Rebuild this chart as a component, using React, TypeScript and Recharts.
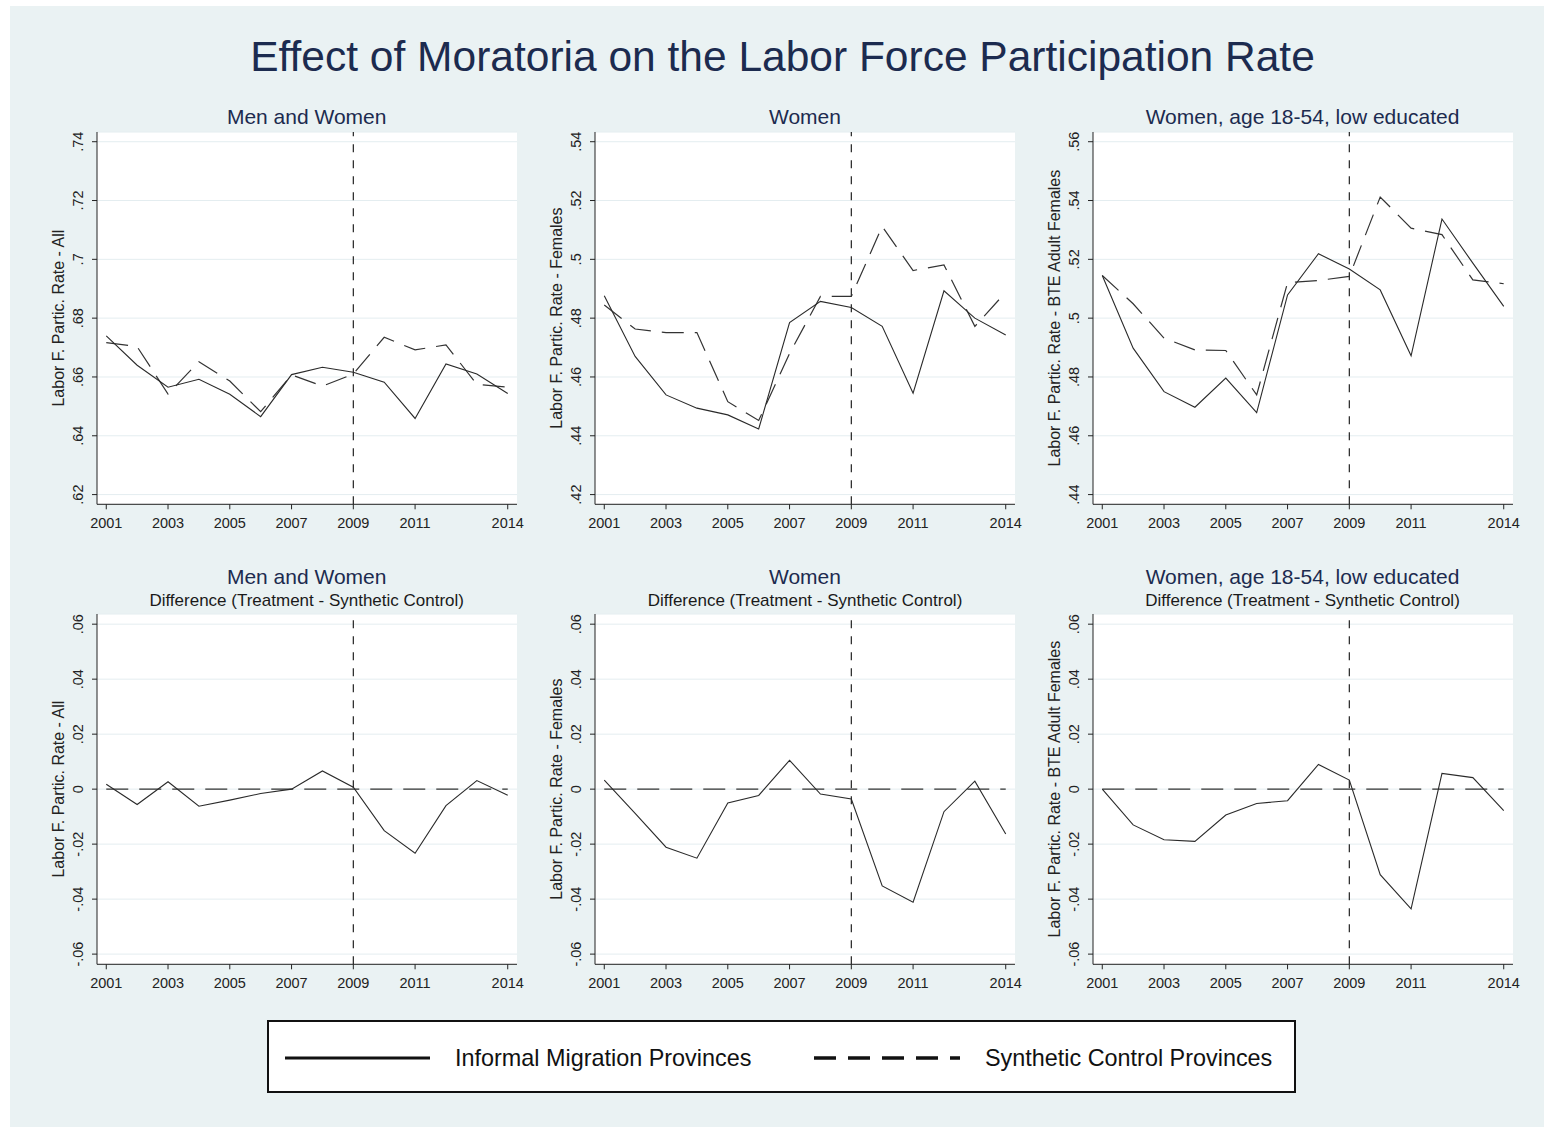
import React from 'react';
import { CartesianGrid, Line, LineChart, ReferenceLine, XAxis, YAxis } from 'recharts';

// years on the x axis
const years = [2001, 2002, 2003, 2004, 2005, 2006, 2007, 2008, 2009, 2010, 2011, 2012, 2013, 2014];
const xTicks = [2001, 2003, 2005, 2007, 2009, 2011, 2014];

// levels - men and women
const treatAll = [0.674, 0.664, 0.6565, 0.6592, 0.6541, 0.6465, 0.6608, 0.6633, 0.6616, 0.6582, 0.6459, 0.6644, 0.661, 0.6544];
const synthAll = [0.6717, 0.6703, 0.6542, 0.6652, 0.6586, 0.6482, 0.6607, 0.6569, 0.661, 0.6735, 0.6692, 0.6709, 0.6575, 0.6565];

// levels - women
const treatFem = [0.4876, 0.467, 0.4539, 0.4494, 0.4471, 0.4423, 0.4785, 0.4857, 0.4836, 0.4772, 0.4545, 0.4893, 0.48, 0.4743];
const synthFem = [0.4845, 0.4763, 0.4751, 0.4751, 0.4516, 0.4452, 0.468, 0.4874, 0.4874, 0.5112, 0.4962, 0.4981, 0.4772, 0.4888];

// levels - women 18-54, low educated
const treatLow = [0.5145, 0.4898, 0.475, 0.4697, 0.4796, 0.4679, 0.5079, 0.5219, 0.5167, 0.5096, 0.4872, 0.5337, 0.5187, 0.504];
const synthLow = [0.5145, 0.5049, 0.4932, 0.4892, 0.489, 0.4739, 0.5121, 0.5128, 0.5142, 0.5412, 0.5306, 0.5284, 0.513, 0.5117];

// differences (treatment - synthetic control)
const diffAll = [0.0018, -0.0056, 0.0027, -0.0062, -0.004, -0.0016, 0.0, 0.0066, 0.0007, -0.0151, -0.0233, -0.006, 0.0031, -0.0022];
const diffFem = [0.0033, -0.0088, -0.0211, -0.0251, -0.005, -0.0023, 0.0105, -0.0018, -0.0036, -0.0352, -0.0411, -0.0082, 0.0029, -0.0163];
const diffLow = [0.0, -0.013, -0.0184, -0.019, -0.0094, -0.0052, -0.0042, 0.009, 0.0033, -0.0311, -0.0435, 0.0057, 0.0042, -0.0078];
const diffBase = [0, 0, 0, 0, 0, 0, 0, 0, 0, 0, 0, 0, 0, 0];

const yTicksAll = [0.62, 0.64, 0.66, 0.68, 0.7, 0.72, 0.74];
const yTicksFem = [0.42, 0.44, 0.46, 0.48, 0.5, 0.52, 0.54];
const yTicksLow = [0.44, 0.46, 0.48, 0.5, 0.52, 0.54, 0.56];
const yTicksDiff = [-0.06, -0.04, -0.02, 0, 0.02, 0.04, 0.06];

const FONT = '"Liberation Sans", Arial, Helvetica, sans-serif';
const NAVY = '#1c2b4f';
const INK = '#222';
const BG = '#eaf2f3';

// page offset of the grey graph region
const OX = 10;
const OY = 6;

const PLOT_W = 420;
const L = 80;
const R = 30;
const T = 2;
const B = 40;

// stata style labels: .74, -.02, 0
const fmtTick = (v: number) => String(Number(v.toFixed(2))).replace(/^(-?)0\./, '$1.');

const YTick = (props: any) => {
    const { x, y, payload } = props;
    return (
        <text x={x} y={y} transform={`rotate(-90, ${x}, ${y})`} textAnchor="middle" fontSize={14.5} fill={INK}>
            {fmtTick(payload.value)}
        </text>
    );
};

interface PanelProps {
    left: number;
    top: number;
    height: number;
    yLabel: string;
    yTicks: number[];
    yDomain: [number, number];
    treat: number[];
    synth: number[];
}

const Panel: React.FC<PanelProps> = ({ left, top, height, yLabel, yTicks, yDomain, treat, synth }) => {
    const data = years.map((year, i) => ({ year, treat: treat[i], synth: synth[i] }));
    return (
        <div style={{ position: 'absolute', left: left - OX - L, top: top - OY - T }}>
            <LineChart
                width={L + PLOT_W + R}
                height={T + height + B}
                data={data}
                margin={{ top: T, right: R, left: 0, bottom: 0 }}
            >
                <CartesianGrid vertical={false} stroke="#e4edf0" fill="#fff" fillOpacity={1} />
                <XAxis
                    dataKey="year"
                    type="number"
                    domain={[2000.7, 2014.3]}
                    ticks={xTicks}
                    interval={0}
                    height={B}
                    tickSize={5}
                    tickMargin={8}
                    stroke={INK}
                    tick={{ fontSize: 14.5, fill: INK }}
                />
                <YAxis
                    type="number"
                    domain={yDomain}
                    ticks={yTicks}
                    interval={0}
                    width={L}
                    tickSize={5}
                    tickMargin={9}
                    stroke={INK}
                    tick={YTick}
                    label={{
                        value: yLabel,
                        angle: -90,
                        position: 'insideLeft',
                        offset: 41.3,
                        style: { textAnchor: 'middle', fontSize: 16, fill: INK }
                    }}
                />
                <ReferenceLine x={2009} stroke={INK} strokeWidth={1.2} strokeDasharray="8 8" />
                <Line
                    type="linear"
                    dataKey="synth"
                    stroke="#333"
                    strokeWidth={1.2}
                    strokeDasharray="22 11"
                    dot={false}
                    isAnimationActive={false}
                />
                <Line
                    type="linear"
                    dataKey="treat"
                    stroke="#2a2a2a"
                    strokeWidth={1.1}
                    dot={false}
                    isAnimationActive={false}
                />
            </LineChart>
        </div>
    );
};

const colLeft = [96.7, 595, 1092.5];
const topRow = { top: 131.7, height: 372.3, title: 124 };
const botRow = { top: 614, height: 350.3, title: 584, sub: 605.5 };
const diffDomain: [number, number] = [-0.0637, 0.0637];

const panelTitles = ['Men and Women', 'Women', 'Women, age 18-54, low educated'];

export default function App() {
    return (
        <div
            style={{
                position: 'absolute',
                left: OX,
                top: OY,
                width: 1534,
                height: 1121,
                background: BG,
                fontFamily: FONT
            }}
        >
            <svg width={1534} height={1121} style={{ position: 'absolute', left: 0, top: 0 }}>
                <text x={772.5} y={65} textAnchor="middle" fontSize={42.5} fill={NAVY}>
                    Effect of Moratoria on the Labor Force Participation Rate
                </text>
                {panelTitles.map((t, i) => (
                    <g key={t}>
                        <text x={colLeft[i] - OX + PLOT_W / 2} y={topRow.title - OY} textAnchor="middle" fontSize={21} fill={NAVY}>
                            {t}
                        </text>
                        <text x={colLeft[i] - OX + PLOT_W / 2} y={botRow.title - OY} textAnchor="middle" fontSize={21} fill={NAVY}>
                            {t}
                        </text>
                        <text x={colLeft[i] - OX + PLOT_W / 2} y={botRow.sub - OY} textAnchor="middle" fontSize={17} fill="#1a1a1a">
                            Difference (Treatment - Synthetic Control)
                        </text>
                    </g>
                ))}
            </svg>

            <Panel left={colLeft[0]} top={topRow.top} height={topRow.height} yLabel="Labor F. Partic. Rate - All"
                yTicks={yTicksAll} yDomain={[0.6167, 0.7433]} treat={treatAll} synth={synthAll} />
            <Panel left={colLeft[1]} top={topRow.top} height={topRow.height} yLabel="Labor F. Partic. Rate - Females"
                yTicks={yTicksFem} yDomain={[0.4167, 0.5433]} treat={treatFem} synth={synthFem} />
            <Panel left={colLeft[2]} top={topRow.top} height={topRow.height} yLabel="Labor F. Partic. Rate - BTE Adult Females"
                yTicks={yTicksLow} yDomain={[0.4367, 0.5633]} treat={treatLow} synth={synthLow} />

            <Panel left={colLeft[0]} top={botRow.top} height={botRow.height} yLabel="Labor F. Partic. Rate - All"
                yTicks={yTicksDiff} yDomain={diffDomain} treat={diffAll} synth={diffBase} />
            <Panel left={colLeft[1]} top={botRow.top} height={botRow.height} yLabel="Labor F. Partic. Rate - Females"
                yTicks={yTicksDiff} yDomain={diffDomain} treat={diffFem} synth={diffBase} />
            <Panel left={colLeft[2]} top={botRow.top} height={botRow.height} yLabel="Labor F. Partic. Rate - BTE Adult Females"
                yTicks={yTicksDiff} yDomain={diffDomain} treat={diffLow} synth={diffBase} />

            {/* shared legend */}
            <svg width={1029} height={73} style={{ position: 'absolute', left: 267 - OX, top: 1020 - OY }}>
                <rect x={1} y={1} width={1027} height={71} fill="#fff" stroke="#111" strokeWidth={2} />
                <line x1={18} y1={38} x2={163} y2={38} stroke="#111" strokeWidth={3} />
                <text x={188} y={46} fontSize={23.4} fill="#111">Informal Migration Provinces</text>
                <line x1={547} y1={38} x2={693} y2={38} stroke="#111" strokeWidth={3.5} strokeDasharray="22 12" />
                <text x={718} y={46} fontSize={23.4} fill="#111">Synthetic Control Provinces</text>
            </svg>
        </div>
    );
}
